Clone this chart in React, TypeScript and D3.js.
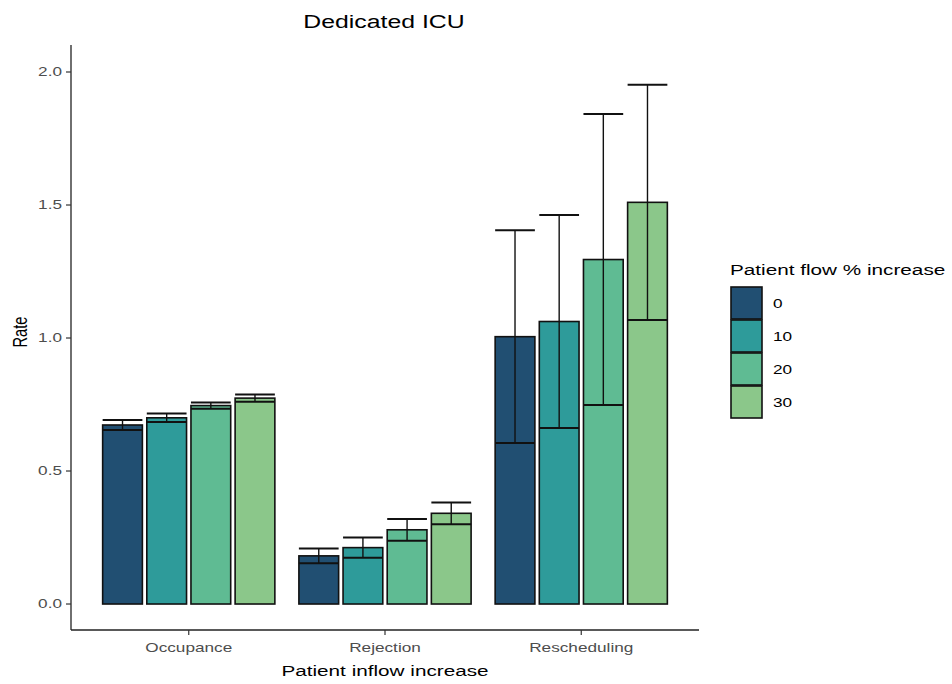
import * as d3 from "d3";

const categories = ["Occupance", "Rejection", "Rescheduling"];
const flowLevels = ["0", "10", "20", "30"];

// mean rate per category, one value per flow level
const occupanceMean = [0.673, 0.7, 0.746, 0.774];
const rejectionMean = [0.181, 0.212, 0.279, 0.341];
const reschedulingMean = [1.005, 1.062, 1.295, 1.51];

// spread used for the error bars (mean ± sd)
const occupanceSd = [0.019, 0.016, 0.012, 0.014];
const rejectionSd = [0.028, 0.038, 0.041, 0.041];
const reschedulingSd = [0.4, 0.4, 0.547, 0.442];

const yTicks = [0, 0.5, 1, 1.5, 2];
const palette = ["#214f72", "#2e9b9a", "#5fbb93", "#8bc78a"];

const means = [occupanceMean, rejectionMean, reschedulingMean];
const sds = [occupanceSd, rejectionSd, reschedulingSd];

const rows = categories.flatMap((cat, ci) =>
  flowLevels.map((lvl, li) => ({
    cat,
    lvl,
    mean: means[ci][li],
    sd: sds[ci][li],
  }))
);

const FONT = "'Liberation Sans', Arial, Helvetica, sans-serif";
const SX = 1.41; // the reference is stretched horizontally

function Label({
  x,
  y,
  size,
  anchor = "start",
  fill = "#000",
  rotate = 0,
  children,
}: {
  x: number;
  y: number;
  size: number;
  anchor?: string;
  fill?: string;
  rotate?: number;
  children: string;
}) {
  return (
    <text
      transform={`translate(${x},${y}) scale(${SX},1)${rotate ? ` rotate(${rotate})` : ""}`}
      textAnchor={anchor}
      fontSize={size}
      fontFamily={FONT}
      fill={fill}
    >
      {children}
    </text>
  );
}

export default function App() {
  const width = 952;
  const height = 684;
  const panel = { left: 71, right: 699, top: 45, bottom: 630 };

  const x = d3
    .scalePoint<string>()
    .domain(categories)
    .range([panel.left, panel.right])
    .padding(0.6);
  const step = x.step();

  const inner = d3
    .scaleBand<string>()
    .domain(flowLevels)
    .range([-0.45 * step, 0.45 * step])
    .paddingInner(0.1)
    .paddingOuter(0.05);

  const y = d3.scaleLinear().domain([-0.0977, 2.1015]).range([panel.bottom, panel.top]);
  const color = d3.scaleOrdinal<string, string>().domain(flowLevels).range(palette);
  const fmt = d3.format(".1f");
  const bw = inner.bandwidth();

  const legendX = 730;
  const legendTop = 287;
  const keySize = 33;

  return (
    <svg
      width={width}
      height={height}
      style={{ position: "absolute", left: 0, top: 0, background: "#fff" }}
    >
      {/* title */}
      <Label x={384} y={28} size={17.6} anchor="middle">
        Dedicated ICU
      </Label>

      {/* bars */}
      {rows.map((d) => {
        const bx = (x(d.cat) ?? 0) + (inner(d.lvl) ?? 0);
        return (
          <rect
            key={`b-${d.cat}-${d.lvl}`}
            x={bx}
            y={y(d.mean)}
            width={bw}
            height={y(0) - y(d.mean)}
            fill={color(d.lvl)}
            stroke="#111"
            strokeWidth={1.6}
          />
        );
      })}

      {/* error bars */}
      {rows.map((d) => {
        const bx = (x(d.cat) ?? 0) + (inner(d.lvl) ?? 0);
        const cx = bx + bw / 2;
        const lo = y(d.mean - d.sd);
        const hi = y(d.mean + d.sd);
        return (
          <g key={`e-${d.cat}-${d.lvl}`} stroke="#111">
            <line x1={cx} x2={cx} y1={lo} y2={hi} strokeWidth={1.4} />
            <line x1={bx} x2={bx + bw} y1={hi} y2={hi} strokeWidth={2} />
            <line x1={bx} x2={bx + bw} y1={lo} y2={lo} strokeWidth={2} />
          </g>
        );
      })}

      {/* axes */}
      <line x1={panel.left} x2={panel.left} y1={panel.top} y2={panel.bottom} stroke="#222" strokeWidth={1.3} />
      <line x1={panel.left} x2={panel.right} y1={panel.bottom} y2={panel.bottom} stroke="#222" strokeWidth={1.3} />

      {yTicks.map((t) => (
        <g key={`yt-${t}`}>
          <line x1={panel.left - 5} x2={panel.left} y1={y(t)} y2={y(t)} stroke="#333" strokeWidth={1.2} />
          <Label x={panel.left - 9} y={y(t) + 4.3} size={12.2} anchor="end" fill="#4d4d4d">
            {fmt(t)}
          </Label>
        </g>
      ))}

      {categories.map((c) => (
        <g key={`xt-${c}`}>
          <line x1={x(c)} x2={x(c)} y1={panel.bottom} y2={panel.bottom + 5} stroke="#333" strokeWidth={1.2} />
          <Label x={x(c) ?? 0} y={652} size={12.2} anchor="middle" fill="#4d4d4d">
            {c}
          </Label>
        </g>
      ))}

      <Label x={(panel.left + panel.right) / 2} y={676} size={14.7} anchor="middle">
        Patient inflow increase
      </Label>
      <Label x={27} y={332} size={14.7} anchor="middle" rotate={-90}>
        Rate
      </Label>

      {/* legend */}
      <Label x={legendX} y={275} size={14.7}>
        Patient flow % increase
      </Label>
      {flowLevels.map((lvl, i) => (
        <g key={`lg-${lvl}`}>
          <rect
            x={legendX + 1}
            y={legendTop + i * keySize}
            width={31}
            height={keySize - 1}
            fill={color(lvl)}
            stroke="#111"
            strokeWidth={1.6}
          />
          <Label x={773} y={legendTop + i * keySize + keySize / 2 + 4.5} size={12.2}>
            {lvl}
          </Label>
        </g>
      ))}
    </svg>
  );
}
